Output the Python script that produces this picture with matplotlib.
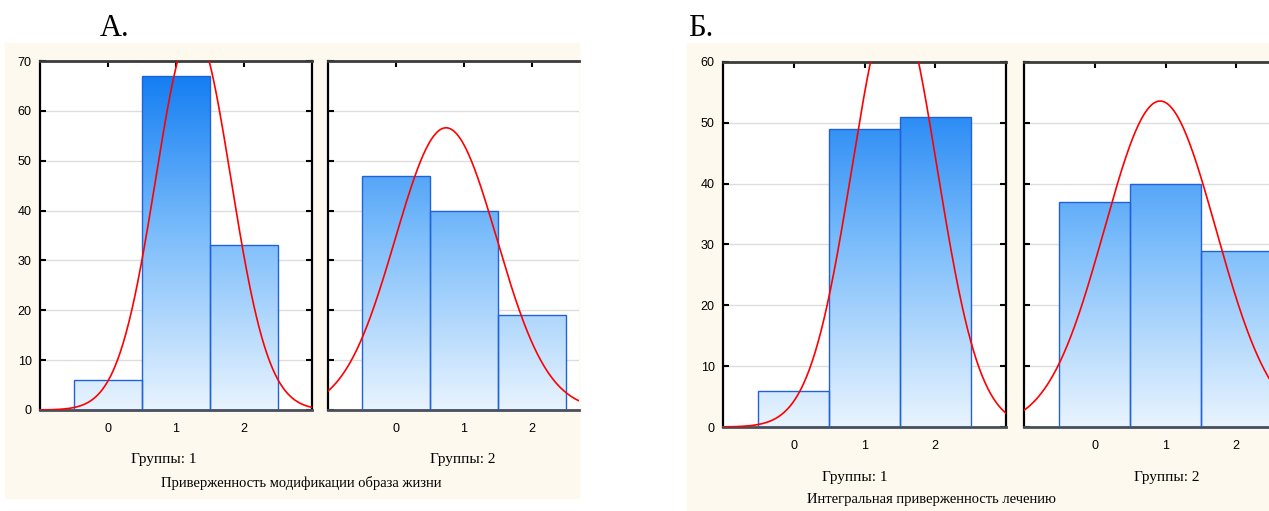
import numpy as np
import matplotlib.pyplot as plt
from matplotlib.colors import LinearSegmentedColormap
from matplotlib.patches import Rectangle

W, H = 1269, 511

# bin categories and counts per group
categories = [0, 1, 2]
lifestyle_g1 = [6, 67, 33]
lifestyle_g2 = [47, 40, 19]
treatment_g1 = [6, 49, 51]
treatment_g2 = [37, 40, 29]

panel_titles = ['А.', 'Б.']
group_labels = ['Группы: 1', 'Группы: 2']
var_labels = ['Приверженность модификации образа жизни',
              'Интегральная приверженность лечению']

CREAM = '#fdf9ee'
grad = LinearSegmentedColormap.from_list('bar', ['#e9f4fe', '#7cbdfb', '#0a78f2'])


def fx(px):
    return px / W


def fy(py):
    return 1 - py / H


def add_axes(px0, py0, px1, py1):
    return fig.add_axes([fx(px0), fy(py1), fx(px1) - fx(px0), (py1 - py0) / H])


def draw_hist(ax, counts, ymax, xmax, left_labels, show_right):
    ax.set_facecolor('white')
    ax.set_yticks(np.arange(0, ymax + 1, 10))
    ax.set_xticks(categories)
    ax.grid(axis='y', color='#dddddd', lw=1)
    ax.set_axisbelow(True)

    bars = ax.bar(categories, counts, width=1, facecolor='none',
                  edgecolor='#2262d8', lw=1, zorder=3)
    g = np.linspace(0, 1, 256).reshape(-1, 1)
    for r in bars:
        im = ax.imshow(g, cmap=grad, origin='lower', aspect='auto',
                       extent=[r.get_x(), r.get_x() + r.get_width(), 0, ymax],
                       zorder=2, interpolation='bilinear')
        im.set_clip_path(r)
    ax.set_xlim(-1, xmax)
    ax.set_ylim(0, ymax)

    # fitted normal curve
    vals = np.repeat(categories, counts)
    mu, sd = vals.mean(), vals.std(ddof=1)
    xs = np.linspace(-1, 3, 400)
    ys = len(vals) * np.exp(-0.5 * ((xs - mu) / sd) ** 2) / (sd * np.sqrt(2 * np.pi))
    ax.plot(xs, ys, color='#ff0000', lw=1.2, zorder=4)

    for s in ['left', 'right']:
        ax.spines[s].set_color('black')
        ax.spines[s].set_linewidth(1.6)
    ax.spines['top'].set_color('#3c3c3c')
    ax.spines['top'].set_linewidth(2)
    ax.spines['bottom'].set_color('#4a4f5a')
    ax.spines['bottom'].set_linewidth(2)
    if not show_right:
        ax.spines['right'].set_visible(False)

    ax.tick_params(direction='in', length=4, width=1.5, color='black',
                   top=True, right=show_right, left=True, bottom=True,
                   labelleft=left_labels, labelsize=9, pad=9)
    ax.tick_params(axis='y', pad=6)
    for t in ax.get_xticklabels() + ax.get_yticklabels():
        t.set_fontfamily('Liberation Sans')


fig = plt.figure(figsize=(W / 100, H / 100), dpi=100)

# cream panel backgrounds
fig.patches.append(Rectangle((fx(5), fy(498)), fx(579) - fx(5), (498 - 43) / H,
                             transform=fig.transFigure, color=CREAM, zorder=-5))
fig.patches.append(Rectangle((fx(687), fy(511)), fx(1269) - fx(687), (511 - 43) / H,
                             transform=fig.transFigure, color=CREAM, zorder=-5))

# panel A
ax1 = add_axes(40, 61, 312, 410)
draw_hist(ax1, lifestyle_g1, 70, 3, True, True)
ax2 = add_axes(328, 61, 579, 410)
draw_hist(ax2, lifestyle_g2, 70, -1 + 251 / 68, False, False)

# panel Б
ax3 = add_axes(723, 62, 1006, 427)
draw_hist(ax3, treatment_g1, 60, 3, True, True)
ax4 = add_axes(1024, 62, 1269, 427)
draw_hist(ax4, treatment_g2, 60, -1 + 245 / 70.75, False, False)

serif = 'Liberation Serif'
fig.text(fx(100), fy(36), panel_titles[0], fontsize=22, family=serif, va='baseline')
fig.text(fx(688), fy(36), panel_titles[1], fontsize=22, family=serif, va='baseline')

fig.text(fx(164), fy(460), group_labels[0], fontsize=11, family=serif, ha='center', va='center')
fig.text(fx(463), fy(460), group_labels[1], fontsize=11, family=serif, ha='center', va='center')
fig.text(fx(301), fy(483), var_labels[0], fontsize=10.5, family=serif, ha='center', va='center')

fig.text(fx(855), fy(477), group_labels[0], fontsize=11, family=serif, ha='center', va='center')
fig.text(fx(1167), fy(477), group_labels[1], fontsize=11, family=serif, ha='center', va='center')
fig.text(fx(931), fy(500), var_labels[1], fontsize=10.5, family=serif, ha='center', va='center')

fig.savefig('out.png', dpi=100, facecolor='white')
